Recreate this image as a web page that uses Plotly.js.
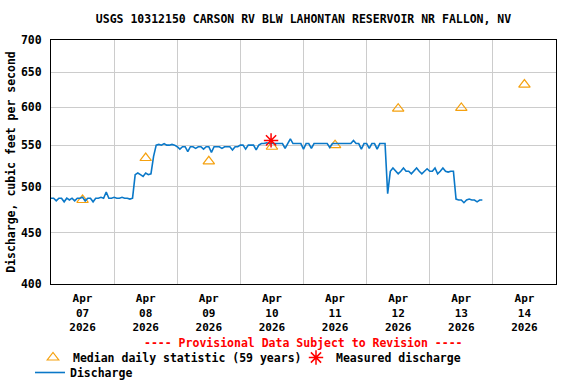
<!DOCTYPE html>
<html>
<head>
<meta charset="utf-8">
<script src="https://cdn.plot.ly/plotly-3.0.1.min.js"></script>
<style>html,body{margin:0;padding:0;background:#fff;}#chart{width:576px;height:384px;}</style>
</head>
<body>
<div id="chart"></div>
<script>
// Hourly discharge (cfs), starting 2026-04-07 00:00, one value per hour
const dischargeStart = '2026-04-07';
const discharge = [
  487,487,484,487,487,483,487,485,
  487,484,487,487,488,484,487,487,
  483,487,487,488,487,494,487,487,
  488,487,487,488,487,487,486,487,
  514,516,514,512,516,514,515,536,
  550,551,550,552,550,550,551,550,
  548,545,548,548,542,548,548,546,
  548,548,545,548,548,541,548,548,
  548,546,548,548,548,544,548,548,
  550,550,545,550,550,550,544,550,
  552,552,553,552,552,552,552,552,
  552,546,552,558,552,552,552,552,
  545,552,552,546,552,552,552,552,
  552,552,547,552,552,552,552,552,
  552,552,552,556,552,552,545,552,
  552,546,552,552,545,552,552,552,
  492,518,522,518,515,518,522,518,
  518,515,518,522,518,515,518,521,
  518,518,522,515,518,522,518,517,
  518,518,486,485,485,482,485,486,
  485,485,483,485,485
];

// Median daily statistic (59 years), at noon of each day
const medianDates = ['2026-04-07 12:00','2026-04-08 12:00','2026-04-09 12:00','2026-04-10 12:00',
                     '2026-04-11 12:00','2026-04-12 12:00','2026-04-13 12:00','2026-04-14 12:00'];
const medianValues = [485, 534, 530, 548, 550, 598, 599, 632];

// Measured discharge
const measuredDates = ['2026-04-10 11:40'];
const measuredValues = [556];

// Tick labels
const tickDates = medianDates;
const tickLabels = ['Apr<br>07<br>2026','Apr<br>08<br>2026','Apr<br>09<br>2026','Apr<br>10<br>2026',
                    'Apr<br>11<br>2026','Apr<br>12<br>2026','Apr<br>13<br>2026','Apr<br>14<br>2026'];
const yTickVals = [400, 450, 500, 550, 600, 650, 700];

function pad(n){ return (n < 10 ? '0' : '') + n; }
const dischargeTimes = discharge.map(function(v, i){
  const day = 7 + Math.floor(i / 24);
  const hr = i % 24;
  return '2026-04-' + pad(day) + ' ' + pad(hr) + ':00';
});

const FONT = 'DejaVu Sans Mono, monospace';
const FS = 11.5;
const LEGFONT = {family: FONT, size: FS, color: '#000000', weight: 'bold'};

const traces = [
  {
    x: medianDates, y: medianValues, type: 'scatter', mode: 'markers',
    name: 'Median daily statistic (59 years)',
    marker: {symbol: 'triangle-up-open', size: 10, color: '#f5a10f', line: {width: 1.2, color: '#f5a10f'}},
    legend: 'legend', hoverinfo: 'skip'
  },
  {
    x: dischargeTimes, y: discharge, type: 'scatter', mode: 'lines',
    name: 'Discharge',
    line: {color: '#0a78c8', width: 1.6},
    legend: 'legend2', hoverinfo: 'skip'
  },
  {
    x: measuredDates, y: measuredValues, type: 'scatter', mode: 'markers',
    name: 'Measured discharge',
    marker: {symbol: 'asterisk-open', size: 12, color: '#ff0000', line: {width: 1.5, color: '#ff0000'}},
    legend: 'legend3', hoverinfo: 'skip'
  }
];

const layout = {
  width: 576, height: 384,
  margin: {l: 51, r: 20, t: 40, b: 100},
  paper_bgcolor: '#ffffff', plot_bgcolor: '#ffffff',
  font: {family: FONT, size: FS, color: '#000000', weight: 'bold'},
  title: {
    text: 'USGS 10312150 CARSON RV BLW LAHONTAN RESERVOIR NR FALLON, NV',
    x: 0.5, xref: 'paper', xanchor: 'center',
    y: 1 - 19/384, yref: 'container', yanchor: 'middle',
    font: {family: FONT, size: FS, color: '#000000', weight: 'bold'}
  },
  xaxis: {
    type: 'date', automargin: false,
    range: ['2026-04-07 00:00', '2026-04-15 00:00'],
    tickmode: 'array', tickvals: tickDates, ticktext: tickLabels,
    ticks: '', showgrid: false, zeroline: false,
    showline: true, mirror: true, linecolor: '#000000', linewidth: 1,
    ticklabelstandoff: 4,
    tickfont: {family: FONT, size: 11, color: '#000000', weight: 'bold'},
    minor: {tickmode: 'linear', tick0: '2026-04-07', dtick: 86400000,
            showgrid: true, gridcolor: '#cccccc', gridwidth: 1, ticks: ''}
  },
  yaxis: {
    type: 'log', automargin: false,
    range: [Math.log10(400), Math.log10(700)],
    tickmode: 'array', tickvals: yTickVals, ticktext: yTickVals.map(String),
    ticks: '', showgrid: true, gridcolor: '#cccccc', gridwidth: 1, zeroline: false,
    showline: true, mirror: true, linecolor: '#000000', linewidth: 1,
    tickfont: {family: FONT, size: FS, color: '#000000', weight: 'bold'},
    ticklabelstandoff: 6,
    title: {text: 'Discharge, cubic feet per second', standoff: 2,
            font: {family: FONT, size: FS, color: '#000000', weight: 'bold'}}
  },
  annotations: [{
    text: '---- Provisional Data Subject to Revision ----',
    xref: 'paper', yref: 'paper', x: 0.5, y: -(343 - 284) / 244,
    xanchor: 'center', yanchor: 'middle', showarrow: false,
    font: {family: FONT, size: FS, color: '#ff0000', weight: 'bold'}
  }],
  legend: {
    orientation: 'h', x: (33 - 51) / 505, xanchor: 'left',
    yref: 'container', y: 1 - 343 / 384, yanchor: 'top',
    font: LEGFONT, bgcolor: 'rgba(0,0,0,0)', borderwidth: 0
  },
  legend3: {
    orientation: 'h', x: (296 - 51) / 505, xanchor: 'left',
    yref: 'container', y: 1 - 343 / 384, yanchor: 'top',
    font: LEGFONT, bgcolor: 'rgba(0,0,0,0)', borderwidth: 0
  },
  legend2: {
    orientation: 'h', x: (30 - 51) / 505, xanchor: 'left',
    yref: 'container', y: 1 - 358 / 384, yanchor: 'top',
    font: LEGFONT, bgcolor: 'rgba(0,0,0,0)', borderwidth: 0
  },
  showlegend: true
};

Plotly.newPlot('chart', traces, layout, {staticPlot: true, displayModeBar: false});
</script>
</body>
</html>
